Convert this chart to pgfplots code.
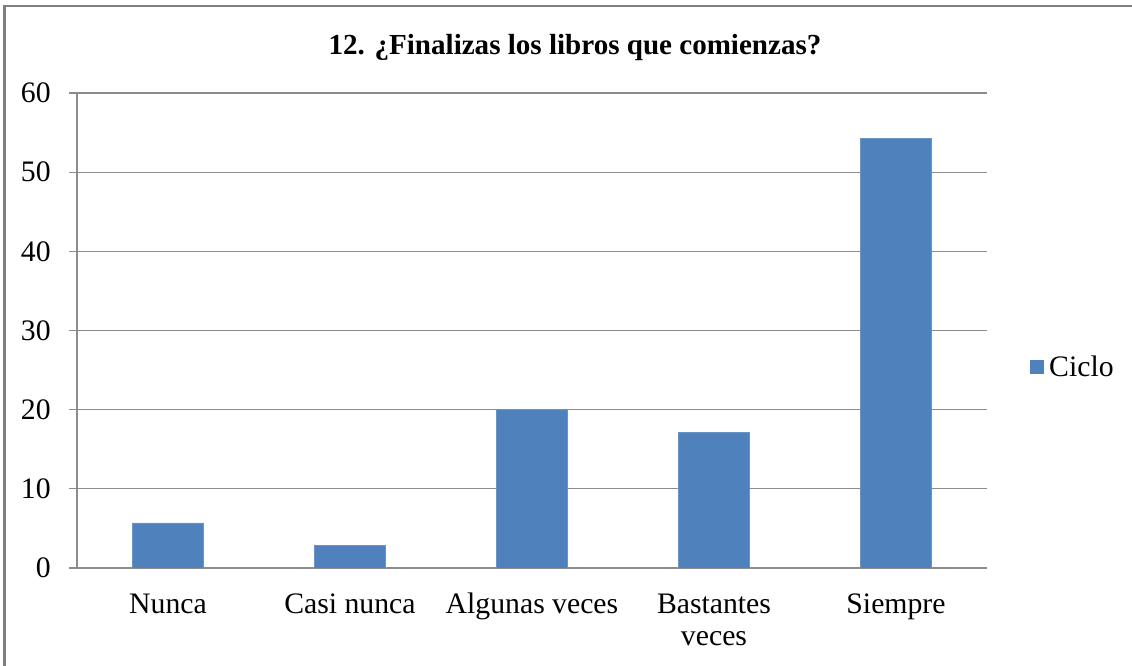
\documentclass[border=0pt]{standalone}
\usepackage{fontspec}
\setmainfont{Liberation Serif}
\usepackage{pgfplots}
\pgfplotsset{compat=1.18}
\definecolor{barblue}{HTML}{4F81BD}
\definecolor{gridgray}{HTML}{8C8C8C}
\definecolor{framegray}{HTML}{7F7F7F}
\begin{document}
\begin{tikzpicture}
\useasboundingbox (-57.75pt,-73.5pt) rectangle (791.25pt,426pt);
\draw[framegray, line width=1.6pt] (-54.4pt,-75pt) -- (-54.4pt,421.5pt) -- (793pt,421.5pt);
\node[font=\bfseries\fontsize{21.8}{24}\selectfont] at (373.5pt,390.5pt) {12. ¿Finalizas los libros que comienzas?};
\begin{axis}[
  at={(0pt,0pt)}, anchor=south west,
  scale only axis, width=682.5pt, height=356.25pt,
  ybar, bar width=53.5pt,
  xmin=-0.5, xmax=4.5, ymin=0, ymax=60,
  ytick={0,10,...,60},
  xtick={0,...,4},
  xticklabels={Nunca, Casi nunca, Algunas veces, {\begin{tabular}[t]{@{}c@{}}Bastantes\\veces\end{tabular}}, Siempre},
  extra x ticks={-0.5,0.5,1.5,2.5,3.5,4.5},
  extra x tick labels={},
  extra x tick style={major tick length=6.5pt, tick style={gridgray, line width=0.8pt}},
  x tick label style={font=\fontsize{22.3}{23.5}\selectfont, anchor=base, inner sep=0pt, yshift=-28.5pt},
  y tick label style={font=\fontsize{22.3}{24}\selectfont, anchor=east, inner sep=0pt, xshift=-13.5pt},
  /pgf/number format/assume math mode=true,
  axis lines*=left,
  axis line style={gridgray, line width=0.8pt, -},
  tick align=outside,
  major tick length=6pt,
  xtick style={draw=none},
  ytick style={gridgray, line width=0.8pt},
  ymajorgrids, grid style={gridgray, line width=0.8pt},
  legend style={at={(rel axis cs:1.047,0.423)}, anchor=west, draw=none, fill=none,
    inner sep=0pt, font=\fontsize{22.3}{24}\selectfont},
  legend image code/.code={\fill[barblue] (0pt,-5pt) rectangle (10pt,5pt);},
]
\addplot[fill=barblue, draw=barblue!85!white] coordinates {(0,5.7) (1,2.9) (2,20) (3,17.1) (4,54.3)};
\addlegendentry{\hspace{2pt}Ciclo}
\end{axis}
\end{tikzpicture}
\end{document}
